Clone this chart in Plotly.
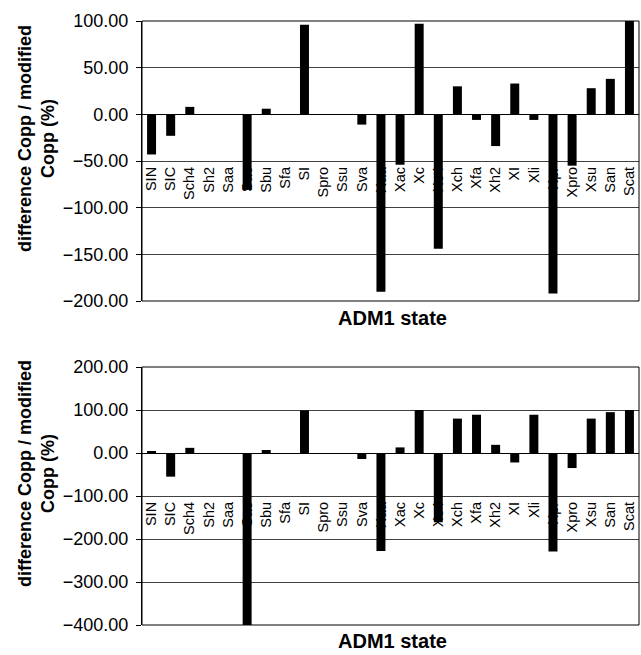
import plotly.graph_objects as go

categories = ["SIN", "SIC", "Sch4", "Sh2", "Saa", "Sac", "Sbu", "Sfa", "SI", "Spro",
              "Ssu", "Sva", "Xaa", "Xac", "Xc", "Xc4", "Xch", "Xfa", "Xh2", "XI",
              "Xli", "Xpr", "Xpro", "Xsu", "San", "Scat"]
top_values = [-43, -23, 8, 0, 0, -81, 6, 0, 96, 0,
              0, -11, -190, -54, 97, -144, 30, -6, -34, 33,
              -6, -192, -55, 28, 38, 100]
bottom_values = [3, -55, 12, 0, 0, -400, 7, 0, 99, 0,
                 0, -14, -228, 13, 100, -161, 80, 89, 19, -22,
                 89, -229, -35, 80, 95, 100]
top_range = [-200, 100]
top_dtick = 50
bottom_range = [-400, 200]
bottom_dtick = 100
top_label_level = -50
bottom_label_level = -100

W, H = 641, 655
ML, MR, MT, MB = 142, 2, 21, 30
PH = H - MT - MB
top_domain = [(H - MB - 301) / PH, 1.0]
bottom_domain = [0.0, (H - MB - 367) / PH]

FONT = "Arial, Liberation Sans, sans-serif"
GRID = "#404040"


def to_paper(v, rng, dom):
    return dom[0] + (v - rng[0]) / (rng[1] - rng[0]) * (dom[1] - dom[0])


n = len(categories)
boundaries = [i + 0.5 for i in range(n - 1)]

fig = go.Figure()
fig.add_trace(go.Bar(x=categories, y=top_values, xaxis="x", yaxis="y",
                     marker=dict(color="black", line=dict(width=0)), showlegend=False))
fig.add_trace(go.Bar(x=categories, y=bottom_values, xaxis="x2", yaxis="y2",
                     marker=dict(color="black", line=dict(width=0)), showlegend=False))


def yaxis_def(rng, dtick, dom):
    return dict(domain=dom, range=rng, dtick=dtick, tick0=0, tickformat=".2f",
                ticks="outside", ticklen=5, tickcolor="black", tickwidth=1,
                ticklabelstandoff=4,
                showline=True, linecolor="black", linewidth=1,
                showgrid=True, gridcolor=GRID, gridwidth=1,
                zeroline=True, zerolinecolor="black", zerolinewidth=1,
                tickfont=dict(family=FONT, size=18, color="black"),
                fixedrange=True)


def label_axis(pos):
    return dict(domain=[0, 1], anchor="free", position=pos, type="category",
                range=[-0.5, n - 0.5], tickangle=-90, ticks="",
                ticklabelstandoff=2,
                showgrid=False, showline=False, zeroline=False,
                layer="below traces", fixedrange=True,
                tickfont=dict(family=FONT, size=14.5, color="black"))


def tick_axis(over, pos):
    return dict(overlaying=over, anchor="free", position=pos, type="linear",
                range=[-0.5, n - 0.5], tickvals=boundaries, ticks="outside",
                ticklen=4, tickcolor="black", tickwidth=1, showticklabels=False,
                showgrid=False, showline=False, zeroline=False, side="bottom",
                fixedrange=True)


fig.update_layout(
    width=W, height=H,
    margin=dict(l=ML, r=MR, t=MT, b=MB, pad=0),
    paper_bgcolor="white", plot_bgcolor="white",
    bargap=0.53,
    font=dict(family=FONT, color="black"),
    xaxis=label_axis(to_paper(top_label_level, top_range, top_domain)),
    yaxis=yaxis_def(top_range, top_dtick, top_domain),
    xaxis2=label_axis(to_paper(bottom_label_level, bottom_range, bottom_domain)),
    yaxis2=yaxis_def(bottom_range, bottom_dtick, bottom_domain),
    xaxis3=tick_axis("x", to_paper(0, top_range, top_domain)),
    xaxis4=tick_axis("x2", to_paper(0, bottom_range, bottom_domain)),
)

for dom in [top_domain, bottom_domain]:
    fig.add_shape(type="rect", xref="paper", yref="paper",
                  x0=0, x1=1, y0=dom[0], y1=dom[1],
                  line=dict(color="black", width=1), layer="above")

ytitle = "<b>difference Copp / modified<br>Copp (%)</b>"
title_x = (36 - ML) / (W - ML - MR)
for yc in [139, 474]:
    fig.add_annotation(text=ytitle, xref="paper", yref="paper",
                       x=title_x, y=(H - MB - yc) / PH, xanchor="center", yanchor="middle",
                       textangle=-90, showarrow=False,
                       font=dict(family=FONT, size=18, color="black"))
for yc in [318, 641]:
    fig.add_annotation(text="<b>ADM1 state</b>", xref="paper", yref="paper",
                       x=(392 - ML) / (W - ML - MR), y=(H - MB - yc) / PH,
                       xanchor="center", yanchor="middle", showarrow=False,
                       font=dict(family=FONT, size=20, color="black"))

fig.write_html("out.html", config={"displayModeBar": False},
               post_script="document.body.style.margin='0';")
